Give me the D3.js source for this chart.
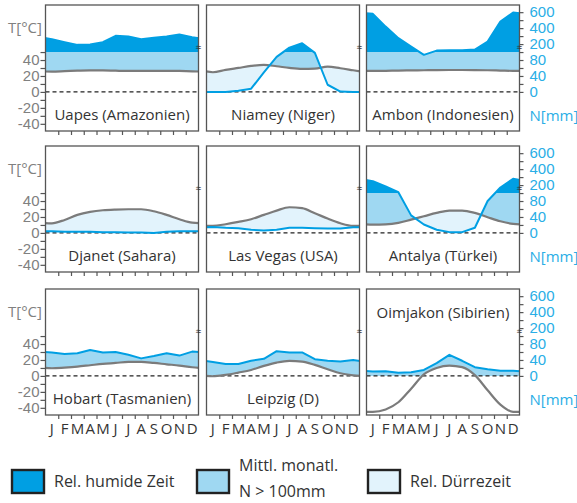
<!DOCTYPE html>
<html>
<head>
<meta charset="utf-8">
<script src="https://cdn.jsdelivr.net/npm/d3@7"></script>
<style>
  body { margin: 0; background: #fff; }
  svg { display: block; font-family: "Open Sans", sans-serif; }
</style>
</head>
<body>
<svg id="chart" width="577" height="503"></svg>
<script>
"use strict";

// monthly values, Jan..Dec
var months = ["J", "F", "M", "A", "M", "J", "J", "A", "S", "O", "N", "D"];

var stationNames = ["Uapes (Amazonien)", "Niamey (Niger)", "Ambon (Indonesien)",
                    "Djanet (Sahara)", "Las Vegas (USA)", "Antalya (Türkei)",
                    "Hobart (Tasmanien)", "Leipzig (D)", "Oimjakon (Sibirien)"];

var tempUapes    = [25.5, 26, 26.6, 27, 27, 26.6, 26.3, 26.3, 26.5, 26.5, 26.3, 25.8];
var precUapes    = [261, 224, 190, 194, 224, 303, 294, 261, 278, 294, 319, 286];
var tempNiamey   = [24.7, 27.6, 30.1, 32.6, 33.9, 32.2, 30.1, 28.9, 29.2, 31.7, 29.7, 27.2];
var precNiamey   = [0, 0, 3, 8, 49, 88, 156, 211, 98, 18, 1, 0];
var tempAmbon    = [26.3, 26.5, 26.8, 27, 27.2, 27.4, 27.5, 27.5, 27.4, 27.2, 26.8, 26.4];
var precAmbon    = [579, 419, 274, 168, 93, 118, 123, 123, 132, 231, 482, 595];
var tempDjanet   = [12.1, 16.3, 22.6, 26.3, 28.4, 29.3, 29.7, 29.7, 27.2, 22.6, 17.2, 12.9];
var precDjanet   = [4, 3, 3, 3, 2, 2, 1, 1, 0, 3, 4, 4];
var tempLasVegas = [8.8, 10.9, 13.8, 17.2, 22.6, 28, 32.2, 31, 24.7, 18, 12.1, 8.8];
var precLasVegas = [15, 13, 12, 8, 6, 8, 13, 13, 12, 11, 11, 14];
var tempAntalya  = [10.5, 10.8, 12.6, 16.7, 20.9, 25.1, 28, 28, 25.1, 19.7, 14.6, 11.3];
var precAntalya  = [249, 182, 110, 44, 21, 8, 2, 2, 13, 80, 170, 278];
var tempHobart   = [9.6, 10.5, 11.7, 13.4, 15.1, 16.3, 17.6, 17.6, 16.3, 14.6, 13, 10.9];
var precHobart   = [59, 55, 57, 65, 59, 60, 53, 44, 50, 57, 51, 61];
var tempLeipzig  = [-0.4, 1.3, 4.2, 7.5, 12.6, 16.7, 18.8, 18, 13.8, 8.4, 3.3, 0.8];
var precLeipzig  = [35, 30, 30, 38, 43, 62, 59, 59, 42, 38, 36, 40];
var tempOimjakon = [-45, -42, -33, -16, 2, 10, 13, 11, 1, -18, -36, -45];
var precOimjakon = [11, 12, 8, 9, 15, 32, 53, 38, 22, 17, 13, 13];

var tempTicks = [-40, -30, -20, -10, 0, 10, 20, 30, 40, 50];
var precTicks = [0, 20, 40, 60, 80, 100, 200, 300, 400, 500, 600];
var precLabels = [0, 40, 80, 200, 400, 600];

var legendLabels = [["Rel. humide Zeit"], ["Mittl. monatl.", "N > 100mm"], ["Rel. Dürrezeit"]];

var temps = [tempUapes, tempNiamey, tempAmbon, tempDjanet, tempLasVegas, tempAntalya,
             tempHobart, tempLeipzig, tempOimjakon];
var precs = [precUapes, precNiamey, precAmbon, precDjanet, precLasVegas, precAntalya,
             precHobart, precLeipzig, precOimjakon];

var dark = "#009fe3", medium = "#9fd8f2", light = "#e2f3fc";
var grey = "#7b7b7b", axisGrey = "#808080", textBlue = "#2aaee6", ink = "#333";

var svg = d3.select("#chart");

var panelW = 153;
var colX = [45.5, 206.5, 366.5];
var rowZero = [92, 233, 376];

stationNames.forEach(function(name, i) {
  var col = i % 3, row = Math.floor(i / 3);
  var x0 = colX[col], zero = rowZero[row];
  var top = zero - 87, bottom = zero + 39;

  var x = d3.scaleLinear().domain([0, 12]).range([x0, x0 + panelW]);
  var y = d3.scaleLinear().domain([-49, 109]).range([bottom, top]);
  // 20 mm = 10 °C up to 100 mm, compressed to 1/10 above
  var yP = d3.scaleLinear().domain([0, 100, 700]).range([y(0), y(50), y(110)]);

  // wrap Dec before Jan and Jan after Dec so the curves reach the frame
  var pts = d3.range(-1, 13).map(function(k) {
    var m = (k + 12) % 12;
    return {m: k + 0.5, t: temps[i][m], p: precs[i][m]};
  });

  var uid = function(s) { return "p" + i + "-" + s; };
  var url = function(s) { return "url(#" + uid(s) + ")"; };

  var g = svg.append("g");
  var defs = g.append("defs");

  defs.append("clipPath").attr("id", uid("frame")).append("rect")
      .attr("x", x0).attr("y", top).attr("width", panelW).attr("height", bottom - top);
  defs.append("clipPath").attr("id", uid("above")).append("path")
      .attr("d", d3.area().curve(d3.curveMonotoneX)
        .x(function(d) { return x(d.m); }).y0(top).y1(function(d) { return y(d.t); })(pts));
  defs.append("clipPath").attr("id", uid("below")).append("path")
      .attr("d", d3.area().curve(d3.curveMonotoneX)
        .x(function(d) { return x(d.m); }).y0(bottom).y1(function(d) { return y(d.t); })(pts));
  defs.append("clipPath").attr("id", uid("band")).append("rect")
      .attr("x", x0).attr("y", y(50)).attr("width", panelW).attr("height", y(0) - y(50));
  defs.append("clipPath").attr("id", uid("wet")).append("rect")
      .attr("x", x0).attr("y", top).attr("width", panelW).attr("height", y(50) - top);

  var inner = g.append("g").attr("clip-path", url("frame"));

  // dry season: above precipitation, below temperature
  inner.append("path")
      .attr("d", d3.area().x(function(d) { return x(d.m); })
        .y0(top).y1(function(d) { return yP(d.p); })(pts))
      .attr("fill", light)
      .attr("clip-path", url("below"));

  // humid: below precipitation, above temperature, 0..100 mm
  inner.append("g").attr("clip-path", url("band"))
    .append("path")
      .attr("d", d3.area().x(function(d) { return x(d.m); })
        .y0(bottom).y1(function(d) { return yP(d.p); })(pts))
      .attr("fill", medium)
      .attr("clip-path", url("above"));

  // above 100 mm
  inner.append("path")
      .attr("d", d3.area().x(function(d) { return x(d.m); })
        .y0(bottom).y1(function(d) { return yP(d.p); })(pts))
      .attr("fill", dark)
      .attr("clip-path", url("wet"));

  inner.append("line")
      .attr("x1", x0).attr("x2", x0 + panelW)
      .attr("y1", y(0)).attr("y2", y(0))
      .attr("stroke", "#222").attr("stroke-width", 1.2)
      .attr("stroke-dasharray", "4,3");

  inner.append("path")
      .attr("d", d3.line().curve(d3.curveMonotoneX)
        .x(function(d) { return x(d.m); }).y(function(d) { return y(d.t); })(pts))
      .attr("fill", "none").attr("stroke", grey).attr("stroke-width", 2.2);

  inner.append("path")
      .attr("d", d3.line()
        .x(function(d) { return x(d.m); }).y(function(d) { return yP(d.p); })(pts))
      .attr("fill", "none").attr("stroke", dark).attr("stroke-width", 2)
      .attr("stroke-linejoin", "round");

  g.append("rect")
      .attr("x", x0).attr("y", top).attr("width", panelW).attr("height", bottom - top)
      .attr("fill", "none").attr("stroke", "#555").attr("stroke-width", 1.3);

  g.append("text")
      .attr("x", x0 + panelW).attr("y", yP(150) + 3)
      .attr("text-anchor", "middle").attr("font-size", 10).attr("fill", ink)
      .text("≈");

  var bx = g.append("g")
      .attr("transform", "translate(0," + bottom + ")")
      .call(d3.axisBottom(x).tickValues(d3.range(1, 12)).tickSize(4).tickFormat(""));
  bx.select(".domain").remove();
  bx.selectAll("line").attr("stroke", "#555").attr("stroke-width", 1.2);

  if (row === 2) {
    g.selectAll(".month")
      .data(months)
      .join("text")
        .attr("x", function(d, k) { return x(k + 0.5); })
        .attr("y", bottom + 19)
        .attr("text-anchor", "middle")
        .attr("font-size", 15).attr("fill", ink)
        .text(function(d) { return d; });
  }

  if (col === 0) {
    var ly = g.append("g")
        .attr("transform", "translate(" + x0 + ",0)")
        .call(d3.axisLeft(y).tickValues(tempTicks).tickSize(5).tickPadding(1)
          .tickFormat(function(d) { return (d % 20 === 0 && d <= 40) ? d : ""; }));
    ly.select(".domain").remove();
    ly.selectAll("line").attr("stroke", "#555").attr("stroke-width", 1.2);
    ly.selectAll("text").attr("font-size", 15).attr("fill", axisGrey)
      .attr("font-family", null);

    g.append("text")
        .attr("x", 8).attr("y", top + 28)
        .attr("font-size", 15).attr("fill", axisGrey)
        .text("T[°C]");
  }

  if (col === 2) {
    var ry = g.append("g")
        .attr("transform", "translate(" + (x0 + panelW) + ",0)")
        .call(d3.axisRight(yP).tickValues(precTicks).tickSize(4).tickPadding(6)
          .tickFormat(function(d) { return precLabels.indexOf(d) >= 0 ? d : ""; }));
    ry.select(".domain").remove();
    ry.selectAll("line").attr("stroke", "#555").attr("stroke-width", 1.2);
    ry.selectAll("text").attr("font-size", 15).attr("fill", textBlue)
      .attr("font-family", null);

    g.append("text")
        .attr("x", x0 + panelW + 10).attr("y", zero + 29)
        .attr("font-size", 15).attr("fill", textBlue)
        .text("N[mm]");
  }

  // the cold station has its name up top, the curve fills the bottom
  var nameAtTop = d3.min(temps[i]) < -30;
  g.append("text")
      .attr("x", x0 + panelW / 2)
      .attr("y", nameAtTop ? top + 29 : zero + 28)
      .attr("text-anchor", "middle")
      .attr("font-size", 15).attr("fill", ink)
      .text(name);
});

// legend
var legendX = [12, 197, 368];
var legendFill = [dark, medium, light];
var legend = svg.append("g");
legendLabels.forEach(function(lines, i) {
  legend.append("rect")
      .attr("x", legendX[i]).attr("y", 470).attr("width", 32).attr("height", 23)
      .attr("fill", legendFill[i]).attr("stroke", "#222").attr("stroke-width", 2.4);
  var t = legend.append("text")
      .attr("x", legendX[i] + 42)
      .attr("font-size", 16).attr("fill", ink);
  if (lines.length === 1) {
    t.attr("y", 487).text(lines[0]);
  } else {
    lines.forEach(function(s, k) {
      t.append("tspan").attr("x", legendX[i] + 42).attr("y", 471 + k * 26).text(s);
    });
  }
});
</script>
</body>
</html>
